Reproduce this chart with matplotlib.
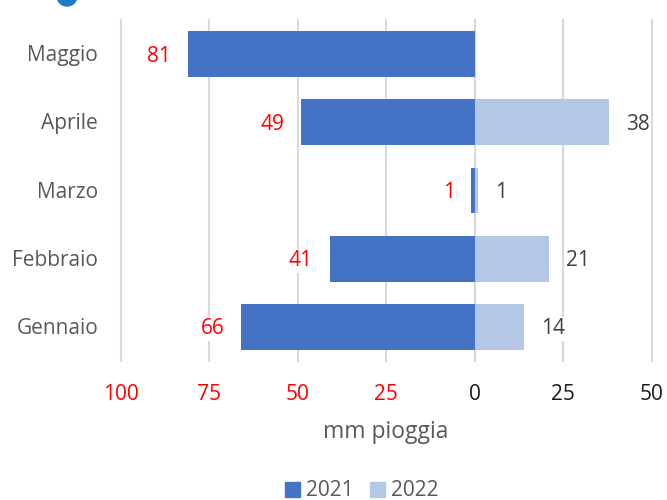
#!/usr/bin/env python3
import matplotlib
matplotlib.use('Agg')
import matplotlib.pyplot as plt
from matplotlib.patches import Patch, Ellipse

months = ['Gennaio', 'Febbraio', 'Marzo', 'Aprile', 'Maggio']
rain_2021 = [66, 41, 1, 49, 81]
rain_2022 = [14, 21, 1, 38, 0]
tick_vals = [-100, -75, -50, -25, 0, 25, 50]
tick_labels = ['100', '75', '50', '25', '0', '25', '50']

BLUE = '#4472C4'
LIGHT = '#B4C7E7'
GREY = '#595959'
DARK = '#404040'

plt.rcParams['font.family'] = ['Open Sans', 'DejaVu Sans']

fig = plt.figure(figsize = (6.67, 5), dpi = 100)
ax = fig.add_axes([120.5 / 667, 1 - 361 / 500, (652 - 120.5) / 667, (361 - 20) / 500])

ax.barh(months, [-v for v in rain_2021], height = 0.67, color = BLUE, zorder = 3)
ax.barh(months, rain_2022, height = 0.67, color = LIGHT, zorder = 3)

# data labels sit a fixed gap off the bar end, white box cuts the gridline
box = dict(facecolor = 'white', edgecolor = 'none', pad = 1)
for i, v in enumerate(rain_2021):
    ax.annotate(str(v), (-v, i), xytext = (-12, -1.5), textcoords = 'offset points', color = 'red',
                fontsize = 15, ha = 'right', va = 'center', bbox = box, zorder = 4)
for i, v in enumerate(rain_2022):
    if v > 0:
        ax.annotate(str(v), (v, i), xytext = (12, -1.5), textcoords = 'offset points', color = DARK,
                    fontsize = 15, ha = 'left', va = 'center', bbox = box, zorder = 4)

ax.set_xlim(-100, 50)
ax.set_ylim(-0.5, 4.5)
ax.set_xticks(tick_vals)
ax.set_xticklabels(tick_labels, fontsize = 15)
for lab, val in zip(ax.get_xticklabels(), tick_vals):
    if val < 0:
        lab.set_color('red')
    else:
        lab.set_color('#1a1a1a')
ax.tick_params(axis = 'x', length = 0, pad = 16.5)
ax.set_yticks(range(len(months)))
ax.set_yticklabels([])
ax.tick_params(axis = 'y', length = 0)
for i, m in enumerate(months):
    fig.text(98 / 667, 1 - (328.5 - i * 68.2) / 500, m, color = GREY, fontsize = 15, ha = 'right', va = 'center')

ax.grid(axis = 'x', color = '#D9D9D9', linewidth = 1.5, zorder = 0)
for gl in ax.get_xgridlines():
    gl.set_clip_on(False)
for s in ax.spines.values():
    s.set_visible(False)

fig.text(386 / 667, 1 - 432 / 500, 'mm pioggia', color = GREY, fontsize = 16.5, ha = 'center', va = 'center')

handles = [Patch(color = BLUE, label = '2021'), Patch(color = LIGHT, label = '2022')]
fig.legend(handles = handles, loc = 'center', bbox_to_anchor = (362 / 667, 1 - 491 / 500), ncol = 2,
           frameon = False, fontsize = 15, labelcolor = GREY, handlelength = 0.7, handleheight = 0.7,
           handletextpad = 0.3, columnspacing = 0.8)

# bit of the logo cut off at the top edge
fig.add_artist(Ellipse((67 / 667, 1 + 4 / 500), 20 / 667, 20 / 500, color = '#1F7CC2'))

fig.savefig('out.png', dpi = 100)
